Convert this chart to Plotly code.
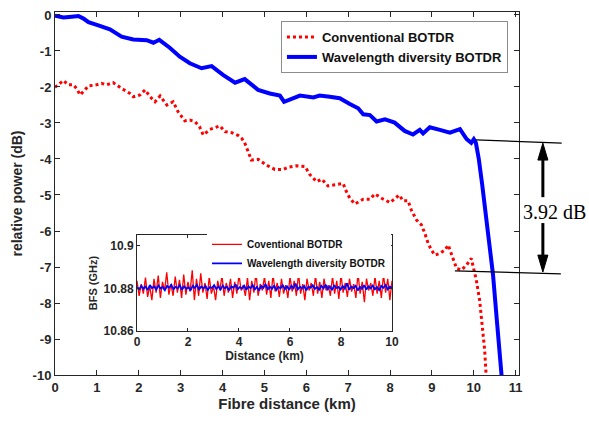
import numpy as np
import plotly.graph_objects as go

# ---------------- data ----------------
wd_x = [0.0, 0.2, 0.4, 0.56, 0.68, 0.80, 1.07, 1.31, 1.59, 1.87, 2.19, 2.35, 2.49, 2.74, 2.98,
        3.22, 3.50, 3.74, 4.02, 4.30, 4.53, 4.85, 5.13, 5.37, 5.47, 5.61, 5.85, 6.17, 6.32,
        6.56, 6.80, 7.04, 7.24, 7.36, 7.52, 7.68, 7.88, 8.11, 8.35, 8.55, 8.71, 8.79, 8.95,
        9.19, 9.43, 9.67, 9.83, 9.94, 10.0, 10.05, 10.12, 10.20, 10.29, 10.38, 10.46, 10.56,
        10.66, 10.70]
wd_y = [-0.02, -0.07, -0.05, -0.03, -0.10, -0.20, -0.30, -0.40, -0.60, -0.68, -0.70, -0.77,
        -0.69, -0.91, -1.16, -1.34, -1.48, -1.42, -1.67, -1.88, -1.78, -2.08, -2.18, -2.24,
        -2.41, -2.34, -2.24, -2.29, -2.24, -2.27, -2.31, -2.47, -2.59, -2.76, -2.78, -2.96,
        -2.90, -2.99, -3.22, -3.32, -3.19, -3.29, -3.12, -3.19, -3.27, -3.17, -3.45, -3.55,
        -3.45, -3.55, -4.00, -4.70, -5.50, -6.40, -7.22, -8.60, -9.94, -10.5]

conv_x = [0.0, 0.1, 0.2, 0.32, 0.44, 0.52, 0.6, 0.7, 0.8, 0.99, 1.11, 1.23, 1.39, 1.59, 1.79,
          1.87, 2.03, 2.15, 2.27, 2.39, 2.51, 2.67, 2.82, 2.94, 3.10, 3.22, 3.34, 3.45, 3.54,
          3.70, 3.94, 4.06, 4.22, 4.38, 4.46, 4.53, 4.61, 4.69, 4.85, 5.05, 5.25, 5.45, 5.57,
          5.77, 5.97, 6.09, 6.25, 6.37, 6.52, 6.72, 6.88, 6.96, 7.04, 7.16, 7.36, 7.52, 7.64,
          7.80, 8.0, 8.22, 8.31, 8.43, 8.51, 8.63, 8.75, 8.83, 8.91, 8.99, 9.07, 9.19, 9.31,
          9.39, 9.47, 9.59, 9.71, 9.83, 9.94, 10.02, 10.06, 10.14, 10.21, 10.26, 10.29, 10.31]
conv_y = [-2.01, -1.92, -1.82, -1.94, -1.94, -2.05, -2.22, -2.10, -1.97, -1.94, -1.90, -1.94,
          -1.88, -2.04, -2.18, -2.27, -2.22, -2.08, -2.27, -2.41, -2.25, -2.50, -2.41, -2.69,
          -2.94, -2.92, -2.96, -3.10, -3.33, -3.18, -3.08, -3.24, -3.27, -3.35, -3.43, -3.55,
          -3.80, -4.03, -4.01, -4.17, -4.29, -4.29, -4.23, -4.19, -4.21, -4.44, -4.63, -4.56,
          -4.75, -4.72, -4.68, -4.91, -5.09, -5.25, -5.12, -5.12, -4.97, -5.09, -5.21, -5.00,
          -5.16, -5.16, -5.42, -5.69, -5.83, -6.06, -6.34, -6.53, -6.67, -6.62, -6.53, -6.39,
          -6.67, -7.04, -7.08, -6.94, -6.76, -7.18, -7.36, -7.92, -8.66, -9.31, -9.91, -10.3]

bfs_conv = [10.8835, 10.8765, 10.882, 10.8775, 10.885, 10.876, 10.881, 10.8745, 10.8845, 10.878,
            10.886, 10.8755, 10.883, 10.879, 10.8875, 10.877, 10.882, 10.8765, 10.8855, 10.878,
            10.884, 10.8755, 10.8865, 10.877, 10.883, 10.8785, 10.8885, 10.8745, 10.8845, 10.8765,
            10.887, 10.878, 10.8825, 10.875, 10.8855, 10.8775, 10.881, 10.8745, 10.8835, 10.879,
            10.886, 10.8765, 10.8825, 10.878, 10.8845, 10.8755, 10.883, 10.8775, 10.8865, 10.879,
            10.8815, 10.8765, 10.885, 10.8745, 10.8835, 10.878, 10.8875, 10.8765, 10.882, 10.879,
            10.8855, 10.877, 10.8835, 10.8755, 10.8865, 10.8785, 10.8825, 10.876, 10.8845, 10.8775,
            10.8815, 10.8755, 10.8855, 10.8785, 10.8835, 10.8765, 10.887, 10.8775, 10.882, 10.8745,
            10.8845, 10.879, 10.8825, 10.8765, 10.886, 10.8775, 10.883, 10.8755, 10.8845, 10.879,
            10.8815, 10.8765, 10.8855, 10.8775, 10.8835, 10.875, 10.8865, 10.878, 10.8825, 10.876,
            10.8845, 10.8785, 10.882, 10.8755, 10.887, 10.8775, 10.883, 10.8735, 10.8845, 10.879,
            10.8825, 10.8765, 10.8855, 10.8775, 10.8835, 10.8755, 10.8865, 10.878, 10.8845, 10.8745,
            10.8835]
bfs_wd = [10.8805, 10.8795, 10.8812, 10.8798, 10.8808, 10.8792, 10.8815, 10.8801, 10.8809, 10.8794,
          10.8813, 10.8799, 10.8806, 10.8791, 10.8811, 10.8803, 10.8817, 10.8796, 10.8807, 10.8800,
          10.8814, 10.8793, 10.8810, 10.8798, 10.8805, 10.8790, 10.8812, 10.8802, 10.8816, 10.8795,
          10.8808, 10.8799, 10.8811, 10.8792, 10.8806, 10.8801, 10.8815, 10.8797, 10.8809, 10.8794,
          10.8813, 10.8800, 10.8807, 10.8791, 10.8810, 10.8803, 10.8818, 10.8796, 10.8806, 10.8799,
          10.8812, 10.8793, 10.8809, 10.8801, 10.8815, 10.8795, 10.8807, 10.8790, 10.8811, 10.8802,
          10.8820, 10.8794, 10.8808, 10.8798, 10.8813, 10.8792, 10.8806, 10.8800, 10.8816, 10.8796,
          10.8809, 10.8793, 10.8812, 10.8801, 10.8822, 10.8795, 10.8807, 10.8799, 10.8811, 10.8791,
          10.8808, 10.8803, 10.8814, 10.8797, 10.8806, 10.8794, 10.8812, 10.8800, 10.8817, 10.8796,
          10.8809, 10.8792, 10.8813, 10.8802, 10.8806, 10.8795, 10.8811, 10.8799, 10.8824, 10.8793,
          10.8808, 10.8801, 10.8812, 10.8790, 10.8807, 10.8798, 10.8815, 10.8794, 10.8809, 10.8800,
          10.8813, 10.8796, 10.8806, 10.8792, 10.8811, 10.8803, 10.8816, 10.8795, 10.8808, 10.8799]
bfs_conv_x = np.linspace(0, 10, len(bfs_conv))
bfs_wd_x = np.linspace(0, 10, len(bfs_wd))

x_ticks = list(range(0, 12))
y_ticks = list(range(-10, 1))
inset_x_ticks = [0, 2, 4, 6, 8, 10]
inset_y_ticks = [10.86, 10.88, 10.9]
inset_y_labels = ["10.86", "10.88", "10.9"]

GAP_DB = 3.92
# annotation geometry (data units)
upper_line = ((10.05, -3.47), (12.10, -3.56))
lower_line = ((9.55, -7.11), (12.08, -7.19))
arrow_x = 11.65
X_RANGE = [0, 11.08]
Y_RANGE = [-10, 0.083]

FONT = "Liberation Sans, Arial, sans-serif"
TICKC = "#262626"


def px(x):
    return (x - X_RANGE[0]) / (X_RANGE[1] - X_RANGE[0])


def py(y):
    return (y - Y_RANGE[0]) / (Y_RANGE[1] - Y_RANGE[0])


def bold(vals):
    return [f"<b>{v}</b>" for v in vals]


fig = go.Figure()
fig.add_trace(go.Scatter(x=conv_x, y=conv_y, mode="lines", name="Conventional BOTDR",
                         line=dict(color="#ff0000", width=3, dash="dot"), legend="legend"))
fig.add_trace(go.Scatter(x=wd_x, y=wd_y, mode="lines", name="Wavelength diversity BOTDR",
                         line=dict(color="#0000ff", width=4), legend="legend"))
fig.add_trace(go.Scatter(x=bfs_conv_x, y=bfs_conv, mode="lines", name="Coventional BOTDR",
                         line=dict(color="#ff0000", width=1.3), xaxis="x2", yaxis="y2",
                         legend="legend2"))
fig.add_trace(go.Scatter(x=bfs_wd_x, y=bfs_wd, mode="lines", name="Wavelength diversity BOTDR",
                         line=dict(color="#0000ff", width=1.8), xaxis="x2", yaxis="y2",
                         legend="legend2"))

axis_common = dict(showline=True, linecolor=TICKC, linewidth=1, mirror="ticks", ticks="inside",
                   tickcolor=TICKC, showgrid=False, zeroline=False, automargin=False)
main_tf = dict(family=FONT, size=13, color=TICKC)
inset_tf = dict(family=FONT, size=12, color=TICKC)

fig.update_layout(
    width=589, height=421,
    margin=dict(l=55, r=70, t=12, b=46),
    paper_bgcolor="white", plot_bgcolor="white",
    font=dict(family=FONT, color=TICKC),
    xaxis=dict(range=X_RANGE, tickvals=x_ticks, ticktext=bold(x_ticks), ticklen=5,
               tickfont=main_tf,
               title=dict(text="<b>Fibre distance (km)</b>", standoff=4,
                          font=dict(family=FONT, size=15, color=TICKC)),
               **axis_common),
    yaxis=dict(range=Y_RANGE, tickvals=y_ticks, ticktext=bold([str(v) for v in y_ticks]),
               ticklen=5, tickfont=main_tf,
               title=dict(text="<b>relative power (dB)</b>", standoff=6,
                          font=dict(family=FONT, size=14, color=TICKC)),
               **axis_common),
    xaxis2=dict(domain=[0.1767, 0.7263], anchor="y2", range=[0, 10], tickvals=inset_x_ticks,
                ticktext=bold(inset_x_ticks), ticklen=3, tickfont=inset_tf,
                title=dict(text="<b>Distance (km)</b>", standoff=2,
                           font=dict(family=FONT, size=12, color=TICKC)),
                **axis_common),
    yaxis2=dict(domain=[0.1212, 0.3857], anchor="x2", range=[10.86, 10.905],
                tickvals=inset_y_ticks, ticktext=bold(inset_y_labels), ticklen=3,
                tickfont=inset_tf,
                title=dict(text="<b>BFS (GHz)</b>", standoff=3,
                           font=dict(family=FONT, size=11, color=TICKC)),
                **axis_common),
    legend=dict(x=0.487, y=0.975, xanchor="left", yanchor="top", bgcolor="white",
                bordercolor="#8c8c8c", borderwidth=1, tracegroupgap=0,
                font=dict(family=FONT, size=13, color="#111", weight="bold")),
    legend2=dict(x=0.3276, y=0.40, xanchor="left", yanchor="top", bgcolor="white",
                 borderwidth=0, tracegroupgap=0,
                 font=dict(family=FONT, size=10, color="#111", weight="bold")),
)

shapes = []
for (x0, y0), (x1, y1) in (upper_line, lower_line):
    shapes.append(dict(type="line", xref="paper", yref="paper", x0=px(x0), y0=py(y0),
                       x1=px(x1), y1=py(y1), line=dict(color="black", width=1.3)))

head_len = 0.47  # dB
half_w = 0.12    # km
up_tip = -3.56
down_tip = -7.14
shapes.append(dict(type="line", xref="paper", yref="paper", x0=px(arrow_x), x1=px(arrow_x),
                   y0=py(-5.06), y1=py(up_tip - head_len + 0.05), line=dict(color="black", width=3)))
shapes.append(dict(type="line", xref="paper", yref="paper", x0=px(arrow_x), x1=px(arrow_x),
                   y0=py(-5.78), y1=py(down_tip + head_len - 0.05), line=dict(color="black", width=3)))
for tip, base in ((up_tip, up_tip - head_len), (down_tip, down_tip + head_len)):
    path = (f"M {px(arrow_x)} {py(tip)} L {px(arrow_x - half_w)} {py(base)} "
            f"L {px(arrow_x + half_w)} {py(base)} Z")
    shapes.append(dict(type="path", xref="paper", yref="paper", path=path,
                       fillcolor="black", line=dict(color="black", width=1)))
fig.update_layout(shapes=shapes)

fig.add_annotation(x=px(12.72), y=py(-5.47), xref="paper", yref="paper", showarrow=False,
                   text=f"{GAP_DB:.2f} dB", xanchor="right", yanchor="middle",
                   font=dict(family="Liberation Serif, Times New Roman, serif", size=20,
                             color="black"))

fig.write_html("out.html", config={"displayModeBar": False},
               post_script="document.body.style.margin='0';document.body.style.overflow='hidden';")
